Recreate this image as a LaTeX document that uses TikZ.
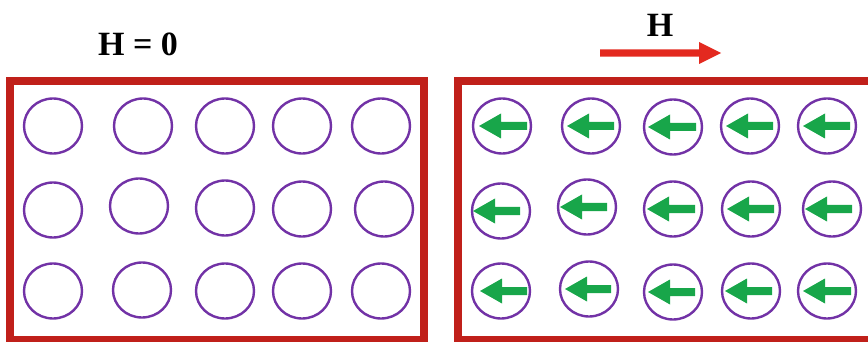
\documentclass[tikz,border=0pt]{standalone}
\usepackage{fontspec}
\setmainfont{Liberation Serif}
\usetikzlibrary{shapes.geometric,calc}
\definecolor{framered}{HTML}{C0201A}
\definecolor{fieldred}{HTML}{E3291F}
\definecolor{spingreen}{HTML}{18A64A}
\definecolor{magpurple}{HTML}{7232A6}
\tikzset{
  frame/.style={draw=framered, line width=8pt},
  dipole/.style={ellipse, draw=magpurple, line width=2.4pt, inner sep=0pt, minimum width=58pt, minimum height=55pt},
  title/.style={font=\fontsize{34}{38}\selectfont\bfseries, inner sep=0pt}
}
\begin{document}
\begin{tikzpicture}[x=1pt,y=-1pt]
\useasboundingbox (0,0) rectangle (868,342);
% frames
\draw[frame] (9.5,81.5) rectangle (423.5,340);
\draw[frame] (457.5,81.5) rectangle (875,340);
% titles
\node[title] (h0) at (138,44.5) {H = 0};
\node[title] (h) at (660,25) {H};
\coordinate (fs) at (600,53);
\coordinate (fe) at (721,53);
\fill[fieldred] (fe) -- ($(fe)+(-22,-11)$) -- ($(fe)+(-22,-3.6)$) -- ($(fs)+(0,-3.6)$)
  -- ($(fs)+(0,3.6)$) -- ($(fe)+(-22,3.6)$) -- ($(fe)+(-22,11)$) -- cycle;
% left circles
\foreach \n/\x/\y in {a1/53/126, a2/143/126, a3/225/126, a4/302/126, a5/381/126,
                      b1/53/210, b2/139/206, b3/225/208, b4/302/209, b5/384/209,
                      c1/53/291, c2/142/290, c3/225/291, c4/302/291, c5/381/291}
  \node[dipole] (\n) at (\x,\y) {};
% right circles with spins
\foreach \n/\x/\y/\t/\s in {d1/502/126/-23/25, d2/591/126/-24/23, d3/673/127/-25/23, d4/750/126/-24/23, d5/827/126/-24/23,
                            e1/501/211/-28/19, e2/587/207/-27/20, e3/673/209/-26/22, e4/751/209/-24/23, e5/832/209/-27/20,
                            f1/501/291/-21/26, f2/589/289/-24/22, f3/673/292/-25/22, f4/751/291/-26/21, f5/827/291/-24/24}
{
  \node[dipole] (\n) at (\x,\y) {};
  \coordinate (\n s) at ($(\n.center)+(\s,0)$);
  \coordinate (\n t) at ($(\n.center)+(\t,0)$);
  \fill[spingreen] (\n t) -- ($(\n t)+(22,-12.5)$) -- ($(\n t)+(22,-4)$) -- ($(\n s)+(0,-4)$)
    -- ($(\n s)+(0,4)$) -- ($(\n t)+(22,4)$) -- ($(\n t)+(22,12.5)$) -- cycle;
}
\end{tikzpicture}
\end{document}
